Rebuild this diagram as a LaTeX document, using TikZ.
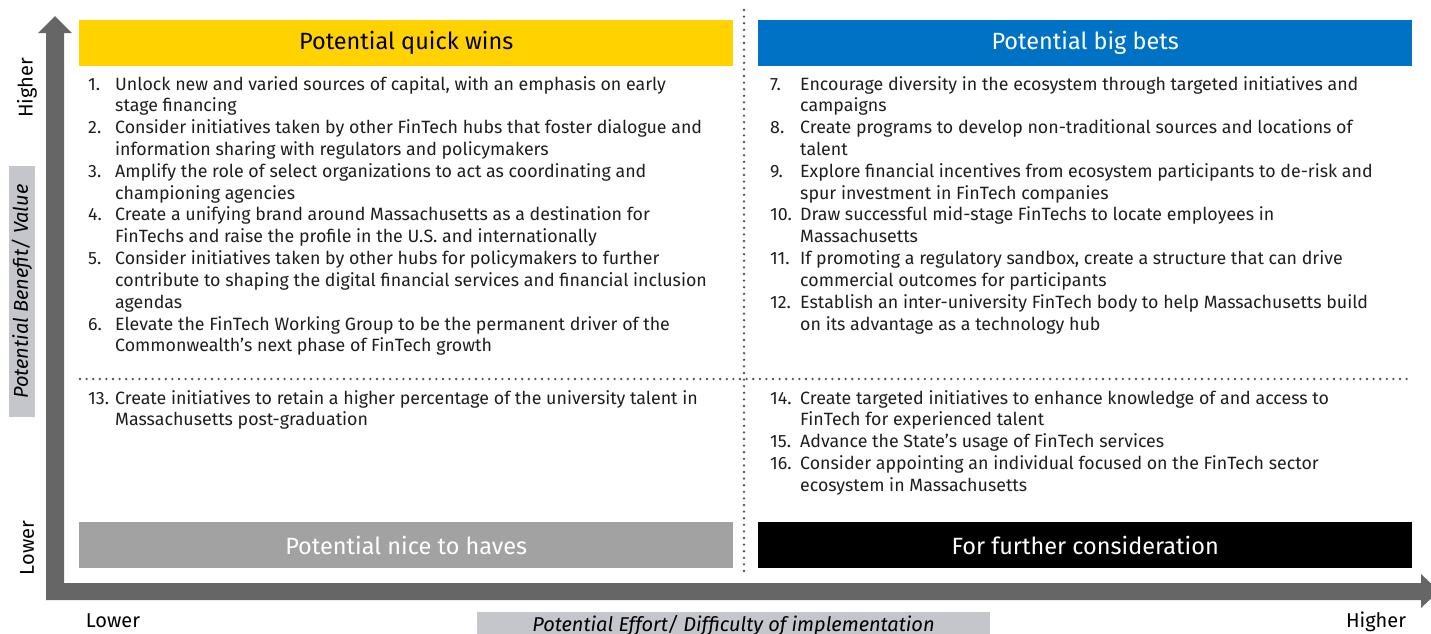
\documentclass[tikz,border=0pt]{standalone}
\usepackage{fontspec}
\setmainfont{Fira Sans}
\definecolor{eyyellow}{HTML}{FFD200}
\definecolor{eyblue}{HTML}{0072C6}
\definecolor{eygrey}{HTML}{A2A2A2}
\definecolor{axisgrey}{HTML}{666666}
\definecolor{labelgrey}{HTML}{C5C5CC}
\definecolor{textc}{HTML}{1E1E1E}
\tikzset{
  txt/.style={anchor=base west, inner sep=0pt, font=\fontsize{17.8}{20}\selectfont, text=textc},
  hdr/.style={anchor=north west, minimum width=654pt, minimum height=46pt, inner sep=0pt, font=\fontsize{23.5}{26}\selectfont},
  axlabel/.style={inner sep=0pt, font=\fontsize{20}{22}\selectfont, text=black},
  dotline/.style={line width=2.6pt, line cap=round, dash pattern=on 0pt off 6.6pt, draw=axisgrey!80!black},
  arrowfill/.style={fill=axisgrey, draw=none}
}
\begin{document}
\begin{tikzpicture}[x=1pt,y=-1pt]
\useasboundingbox (0,0) rectangle (1431,633);
% axes
\fill[arrowfill] (46,600) -- (46,33) -- (38,33) -- (55,16) -- (72,33) -- (64,33) -- (64,583) -- (1421,583) -- (1421,574) -- (1439,591) -- (1421,608) -- (1421,600) -- cycle;
% dotted dividers
\draw[dotline] (744,10) -- (744,575);
\draw[dotline] (80,379) -- (1410,379);
% headers
\node[hdr, fill=eyyellow, text=black] (qw) at (79,20) {Potential quick wins};
\node[hdr, fill=eyblue, text=white] (bb) at (758,20) {Potential big bets};
\node[hdr, fill=eygrey, text=white] (nh) at (79,522) {Potential nice to haves};
\node[hdr, fill=black, text=white] (fc) at (758,522) {For further consideration};
% axis labels
\node[axlabel, rotate=90] (hiy) at (27,88) {Higher};
\node[axlabel, rotate=90] (loy) at (27,548) {Lower};
\node[axlabel, rotate=90, fill=labelgrey, minimum width=251pt, minimum height=26pt, font=\fontsize{20}{22}\selectfont\itshape] (yl) at (22,291.5) {Potential Benefit/ Value};
\node[axlabel, anchor=base] (lox) at (113,627) {Lower};
\node[axlabel, anchor=base] (hix) at (1376,627) {Higher};
\node[axlabel, fill=labelgrey, anchor=north, minimum width=513pt, minimum height=26pt, font=\fontsize{20}{22}\selectfont\itshape] (xl) at (733.5,612) {Potential Effort/ Difficulty of implementation};
% top-left items
\foreach \t [count=\i] in {
 {Unlock new and varied sources of capital, with an emphasis on early},
 {stage financing},
 {Consider initiatives taken by other FinTech hubs that foster dialogue and},
 {information sharing with regulators and policymakers},
 {Amplify the role of select organizations to act as coordinating and},
 {championing agencies},
 {Create a unifying brand around Massachusetts as a destination for},
 {FinTechs and raise the profile in the U.S. and internationally},
 {Consider initiatives taken by other hubs for policymakers to further},
 {contribute to shaping the digital financial services and financial inclusion},
 {agendas},
 {Elevate the FinTech Working Group to be the permanent driver of the},
 {Commonwealth's next phase of FinTech growth}}
 \node[txt] (tl\i) at ({115},{90+(\i-1)*21.83}) {\t};
\foreach \n/\k in {1/1,2/3,3/5,4/7,5/9,6/12}
 \node[txt] (ntl\n) at ({88},{90+(\k-1)*21.83}) {\n.};
% top-right items
\foreach \t [count=\i] in {
 {Encourage diversity in the ecosystem through targeted initiatives and},
 {campaigns},
 {Create programs to develop non-traditional sources and locations of},
 {talent},
 {Explore financial incentives from ecosystem participants to de-risk and},
 {spur investment in FinTech companies},
 {Draw successful mid-stage FinTechs to locate employees in},
 {Massachusetts},
 {If promoting a regulatory sandbox, create a structure that can drive},
 {commercial outcomes for participants},
 {Establish an inter-university FinTech body to help Massachusetts build},
 {on its advantage as a technology hub}}
 \node[txt] (tr\i) at ({800},{90+(\i-1)*21.83}) {\t};
\foreach \n/\k in {7/1,8/3,9/5,10/7,11/9,12/11}
 \node[txt] (ntr\n) at ({770},{90+(\k-1)*21.83}) {\n.};
% bottom-left
\node[txt] (bl1) at (115,404) {Create initiatives to retain a higher percentage of the university talent in};
\node[txt] (bl2) at (115,425.83) {Massachusetts post-graduation};
\node[txt] (nbl13) at (88,404) {13.};
% bottom-right
\foreach \t [count=\i] in {
 {Create targeted initiatives to enhance knowledge of and access to},
 {FinTech for experienced talent},
 {Advance the State’s usage of FinTech services},
 {Consider appointing an individual focused on the FinTech sector},
 {ecosystem in Massachusetts}}
 \node[txt] (br\i) at ({800},{404+(\i-1)*21.83}) {\t};
\foreach \n/\k in {14/1,15/3,16/4}
 \node[txt] (nbr\n) at ({770},{404+(\k-1)*21.83}) {\n.};
\end{tikzpicture}
\end{document}
